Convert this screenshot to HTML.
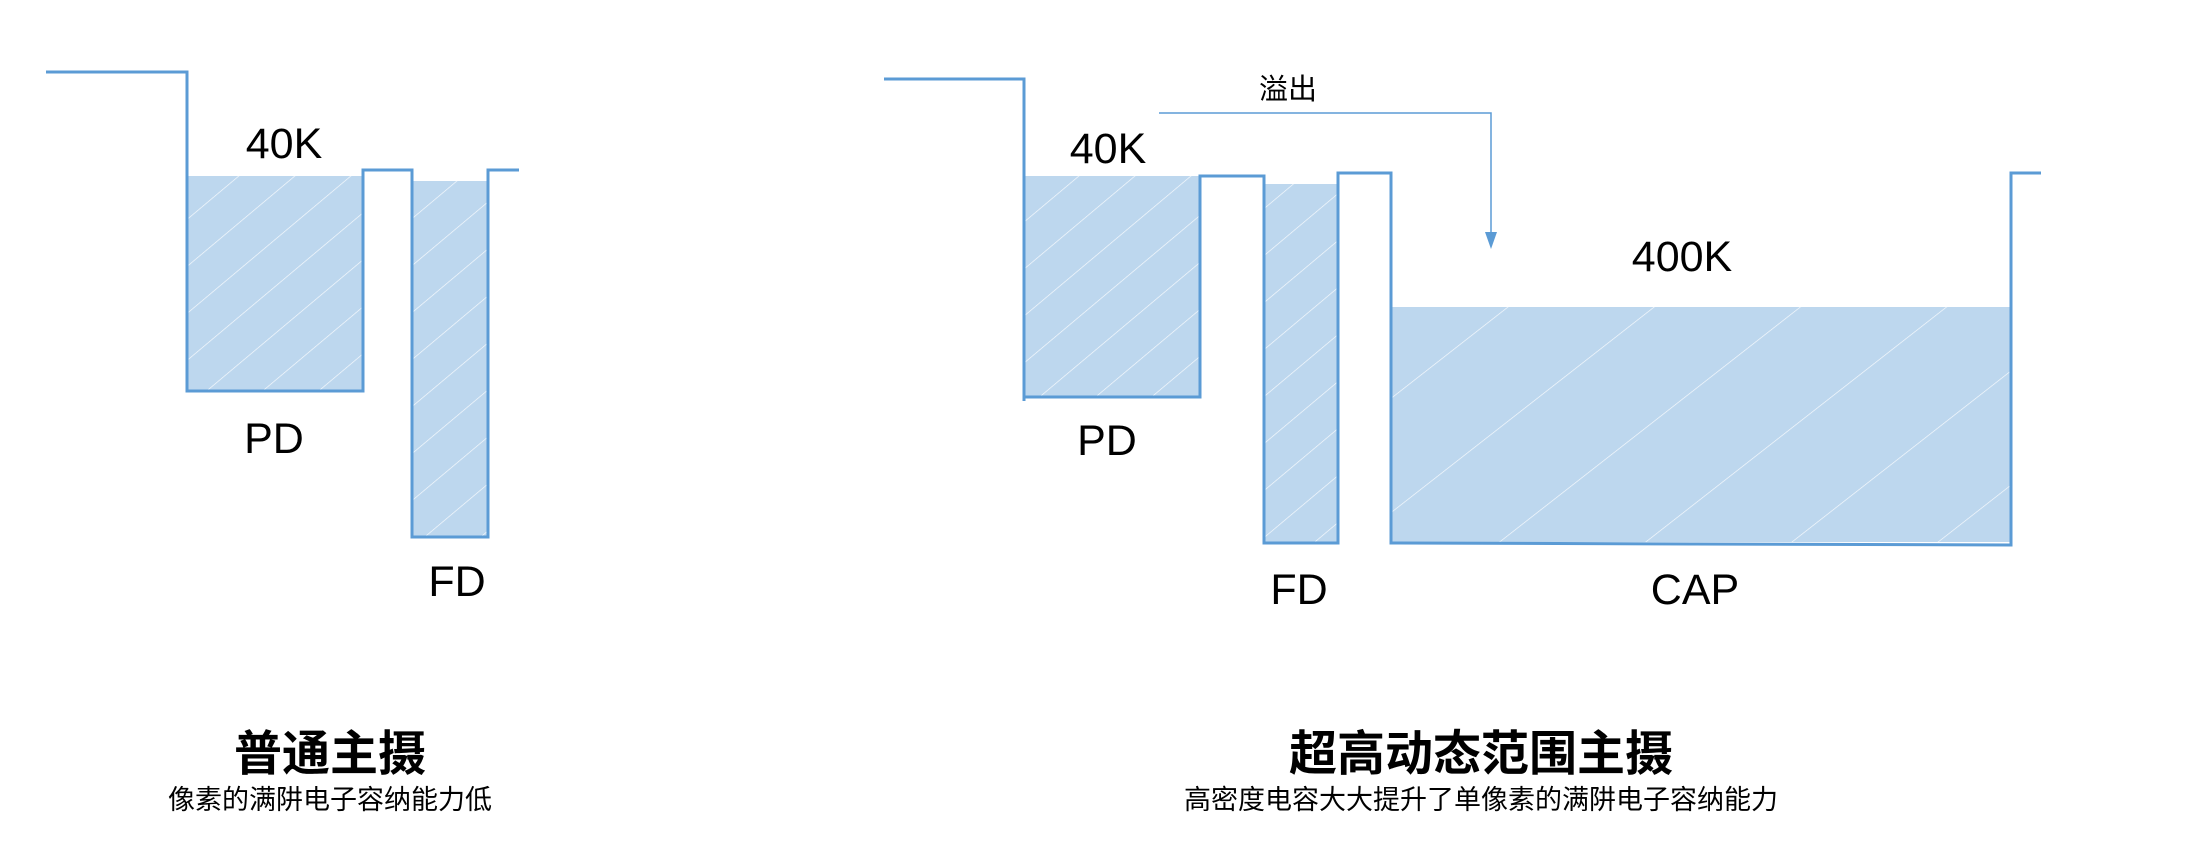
<!DOCTYPE html>
<html><head><meta charset="utf-8"><style>
html,body{margin:0;padding:0;background:#fff;}
svg{display:block;}
text{font-family:"Liberation Sans","Noto Sans CJK SC",sans-serif;fill:#000;}
</style></head><body>
<svg width="2189" height="867" viewBox="0 0 2189 867" xmlns="http://www.w3.org/2000/svg">
<defs>
<pattern id="h1" patternUnits="userSpaceOnUse" width="36" height="36" patternTransform="rotate(50)">
<rect width="36" height="36" fill="#bdd7ee"/><line x1="0" y1="0" x2="0" y2="36" stroke="#fff" stroke-width="1.3" opacity="0.9"/>
</pattern>
<pattern id="h2" patternUnits="userSpaceOnUse" width="90" height="90" patternTransform="rotate(52)">
<rect width="90" height="90" fill="#bdd7ee"/><line x1="0" y1="0" x2="0" y2="90" stroke="#fff" stroke-width="1.3" opacity="0.9"/>
</pattern>
</defs>
<!-- left -->
<rect x="188" y="176" width="174" height="214" fill="url(#h1)"/>
<rect x="413" y="181" width="74" height="355" fill="url(#h1)"/>
<polyline points="46,72 187,72 187,391 363,391 363,170 412,170 412,537 488,537 488,170 519,170" fill="none" stroke="#5b9bd5" stroke-width="3"/>
<text x="284" y="158" font-size="43" text-anchor="middle">40K</text>
<text x="274" y="453" font-size="43" text-anchor="middle">PD</text>
<text x="457" y="596" font-size="43" text-anchor="middle">FD</text>
<text x="330" y="770" font-size="48" font-weight="bold" text-anchor="middle">普通主摄</text>
<text x="330" y="809" font-size="27" text-anchor="middle">像素的满阱电子容纳能力低</text>
<!-- right -->
<rect x="1025" y="176" width="175" height="220" fill="url(#h1)"/>
<rect x="1265" y="184" width="73" height="358" fill="url(#h1)"/>
<rect x="1392" y="307" width="618" height="235" fill="url(#h2)"/>
<polyline points="884,79 1024,79 1024,401" fill="none" stroke="#5b9bd5" stroke-width="3"/>
<polyline points="1024,397 1200,397 1200,176 1264,176 1264,543 1338,543 1338,173 1391,173 1391,543 2011,545 2011,173 2041,173" fill="none" stroke="#5b9bd5" stroke-width="3"/>
<polyline points="1159,113 1491,113 1491,236" fill="none" stroke="#5b9bd5" stroke-width="1.5"/>
<polygon points="1485,232 1497,232 1491,249" fill="#5b9bd5"/>
<text x="1288" y="99" font-size="29" text-anchor="middle">溢出</text>
<text x="1108" y="163" font-size="43" text-anchor="middle">40K</text>
<text x="1682" y="271" font-size="43" text-anchor="middle">400K</text>
<text x="1107" y="455" font-size="43" text-anchor="middle">PD</text>
<text x="1299" y="604" font-size="43" text-anchor="middle">FD</text>
<text x="1695" y="604" font-size="43" text-anchor="middle">CAP</text>
<text x="1481" y="770" font-size="48" font-weight="bold" text-anchor="middle">超高动态范围主摄</text>
<text x="1481" y="809" font-size="27" text-anchor="middle">高密度电容大大提升了单像素的满阱电子容纳能力</text>
</svg>
</body></html>
